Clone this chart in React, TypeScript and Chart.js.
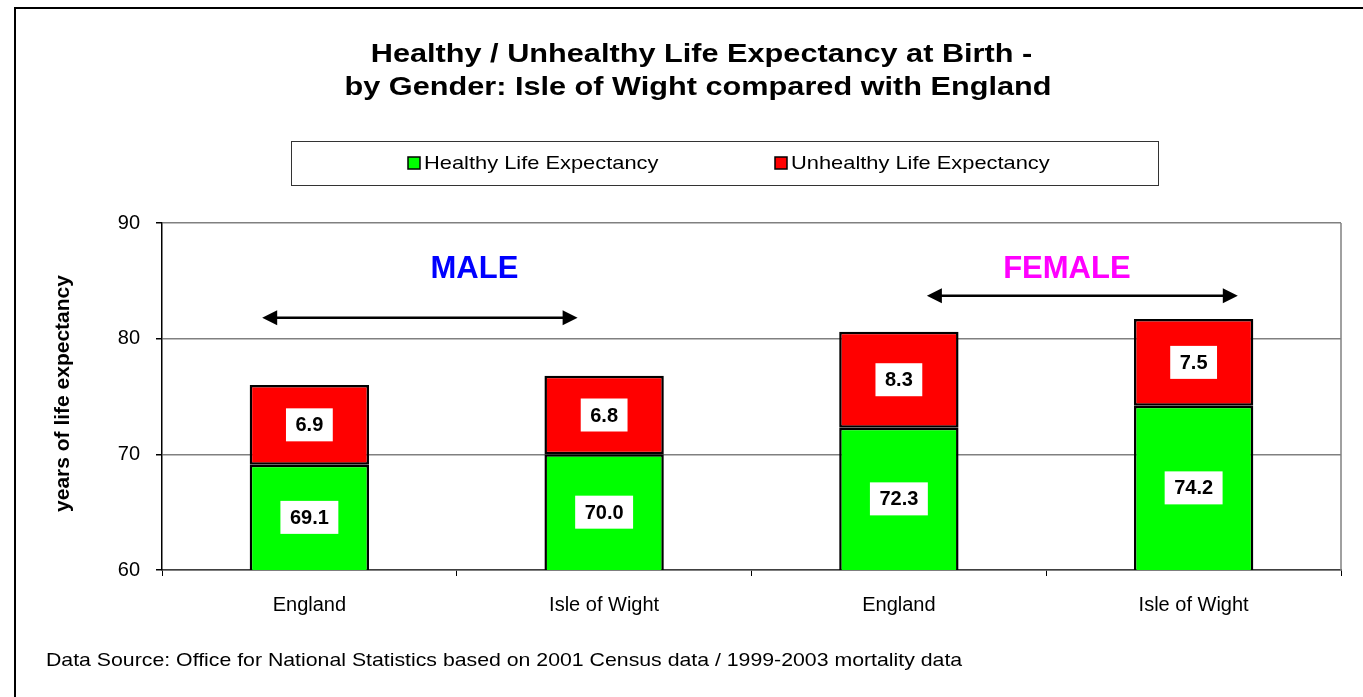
import React, { useEffect, useRef } from "react";
import { Chart, registerables } from "chart.js";

Chart.register(...registerables);

const categories = ["England", "Isle of Wight", "England", "Isle of Wight"];
const healthy = [69.1, 70.0, 72.3, 74.2];
const unhealthy = [6.9, 6.8, 8.3, 7.5];
const yTicks = [60, 70, 80, 90];
const titleLines = [
  "Healthy / Unhealthy Life Expectancy at Birth -",
  "by Gender: Isle of Wight compared with England",
];
const seriesNames = ["Healthy Life Expectancy", "Unhealthy Life Expectancy"];
const groupLabels = ["MALE", "FEMALE"];
const sourceText =
  "Data Source: Office for National Statistics based on 2001 Census data / 1999-2003 mortality data";
const yTitle = "years of life expectancy";

const FONT = "Arial, 'Liberation Sans', sans-serif";
const GREEN = "#00FF00";
const RED = "#FF0000";
const STRETCH = 1.15;

// annotation anchors in scale units (category index, value)
const arrows = [
  { x1: -0.16, x2: 0.91, y: 81.8 },
  { x1: 2.095, x2: 3.15, y: 83.7 },
];
const groupText = [
  { x: 0.56, y: 86.0, color: "#0000FF" },
  { x: 2.57, y: 86.0, color: "#FF00FF" },
];

function catToPx(xs: any, v: number) {
  const p0 = xs.getPixelForValue(0);
  const p1 = xs.getPixelForValue(1);
  return p0 + (p1 - p0) * v;
}

function stretchedText(
  ctx: CanvasRenderingContext2D,
  text: string,
  x: number,
  y: number,
  font: string,
  align: "left" | "center",
  baseline: CanvasTextBaseline,
  sx: number
) {
  ctx.save();
  ctx.font = font;
  ctx.textBaseline = baseline;
  ctx.textAlign = "left";
  const w = ctx.measureText(text).width * sx;
  const left = align === "center" ? x - w / 2 : x;
  ctx.translate(left, y);
  ctx.scale(sx, 1);
  ctx.fillText(text, 0, 0);
  ctx.restore();
}

const overlayPlugin = {
  id: "overlay",
  beforeDraw(chart: any) {
    const ctx = chart.ctx;
    ctx.save();
    ctx.fillStyle = "#FFFFFF";
    ctx.fillRect(0, 0, chart.width, chart.height);
    ctx.strokeStyle = "#000000";
    ctx.lineWidth = 2;
    ctx.beginPath();
    ctx.moveTo(15, chart.height + 2);
    ctx.lineTo(15, 8);
    ctx.lineTo(chart.width + 2, 8);
    ctx.stroke();
    ctx.restore();
  },
  afterDraw(chart: any) {
    const ctx = chart.ctx;
    const xs = chart.scales.x;
    const ys = chart.scales.y;
    const area = chart.chartArea;
    ctx.save();

    // right border of plot
    ctx.strokeStyle = "#808080";
    ctx.lineWidth = 1.5;
    ctx.beginPath();
    ctx.moveTo(area.right, area.top);
    ctx.lineTo(area.right, area.bottom);
    ctx.stroke();

    // title
    ctx.fillStyle = "#000000";
    stretchedText(ctx, titleLines[0], 701.5, 62, `bold 26px ${FONT}`, "center", "alphabetic", 1.18);
    stretchedText(ctx, titleLines[1], 698, 95, `bold 26px ${FONT}`, "center", "alphabetic", 1.18);

    // legend
    ctx.strokeStyle = "#333333";
    ctx.lineWidth = 1;
    ctx.strokeRect(291.5, 141.5, 867, 44);
    const legendItems = [
      { x: 408, color: GREEN, text: seriesNames[0] },
      { x: 775, color: RED, text: seriesNames[1] },
    ];
    legendItems.forEach((it) => {
      ctx.fillStyle = it.color;
      ctx.fillRect(it.x, 157, 12, 12);
      ctx.strokeStyle = "#000000";
      ctx.lineWidth = 1.5;
      ctx.strokeRect(it.x, 157, 12, 12);
      ctx.fillStyle = "#000000";
      stretchedText(ctx, it.text, it.x + 16, 164, `19px ${FONT}`, "left", "middle", STRETCH);
    });

    // y axis title
    ctx.save();
    ctx.translate(63, 393.5);
    ctx.rotate(-Math.PI / 2);
    ctx.font = `bold 21px ${FONT}`;
    ctx.textAlign = "center";
    ctx.textBaseline = "middle";
    ctx.fillStyle = "#000000";
    ctx.fillText(yTitle, 0, 0);
    ctx.restore();

    // data labels
    ctx.font = `bold 20px ${FONT}`;
    ctx.textAlign = "center";
    ctx.textBaseline = "middle";
    chart.data.datasets.forEach((ds: any, di: number) => {
      const meta = chart.getDatasetMeta(di);
      meta.data.forEach((bar: any, i: number) => {
        const v = ds.data[i];
        const txt = v.toFixed(1);
        const top = Math.min(bar.y, bar.base);
        const bottom = Math.min(Math.max(bar.y, bar.base), area.bottom);
        const cy = (top + bottom) / 2;
        const w = ctx.measureText(txt).width + 19;
        const h = 33;
        ctx.fillStyle = "#FFFFFF";
        ctx.fillRect(bar.x - w / 2, cy - h / 2, w, h);
        ctx.fillStyle = "#000000";
        ctx.fillText(txt, bar.x, cy + 1);
      });
    });

    // arrows
    ctx.strokeStyle = "#000000";
    ctx.fillStyle = "#000000";
    ctx.lineWidth = 2.5;
    arrows.forEach((a) => {
      const x1 = catToPx(xs, a.x1);
      const x2 = catToPx(xs, a.x2);
      const y = ys.getPixelForValue(a.y);
      ctx.beginPath();
      ctx.moveTo(x1 + 10, y);
      ctx.lineTo(x2 - 10, y);
      ctx.stroke();
      ctx.beginPath();
      ctx.moveTo(x1, y);
      ctx.lineTo(x1 + 15, y - 7.5);
      ctx.lineTo(x1 + 15, y + 7.5);
      ctx.closePath();
      ctx.fill();
      ctx.beginPath();
      ctx.moveTo(x2, y);
      ctx.lineTo(x2 - 15, y - 7.5);
      ctx.lineTo(x2 - 15, y + 7.5);
      ctx.closePath();
      ctx.fill();
    });

    // group labels
    ctx.font = `bold 31px ${FONT}`;
    ctx.textAlign = "center";
    ctx.textBaseline = "middle";
    groupText.forEach((g, i) => {
      ctx.fillStyle = g.color;
      ctx.fillText(groupLabels[i], catToPx(xs, g.x), ys.getPixelForValue(g.y));
    });

    // source
    ctx.fillStyle = "#000000";
    stretchedText(ctx, sourceText, 46, 661, `18.5px ${FONT}`, "left", "middle", STRETCH);

    ctx.restore();
  },
};

export default function App() {
  const ref = useRef<HTMLCanvasElement | null>(null);
  useEffect(() => {
    if (!ref.current) return;
    const chart = new Chart(ref.current, {
      type: "bar",
      data: {
        labels: categories,
        datasets: [
          {
            label: seriesNames[0],
            data: healthy,
            backgroundColor: GREEN,
            borderColor: "#000000",
            borderWidth: 2.5,
            borderSkipped: false,
            barPercentage: 0.405,
            categoryPercentage: 1,
          },
          {
            label: seriesNames[1],
            data: unhealthy,
            backgroundColor: RED,
            borderColor: "#000000",
            borderWidth: 2.5,
            borderSkipped: false,
            barPercentage: 0.405,
            categoryPercentage: 1,
          },
        ],
      },
      options: {
        animation: false,
        responsive: true,
        maintainAspectRatio: false,
        layout: { padding: { left: 0, top: 223, right: 22, bottom: 67 } },
        plugins: {
          legend: { display: false },
          title: { display: false },
          tooltip: { enabled: false },
        },
        scales: {
          x: {
            stacked: true,
            afterFit: (s: any) => {
              s.height = 60;
            },
            grid: {
              offset: true,
              drawOnChartArea: false,
              drawTicks: true,
              tickLength: 6,
              color: "#000000",
            },
            border: { color: "#404040", width: 1.5 },
            ticks: {
              color: "#000000",
              font: { family: FONT, size: 20 },
              padding: 17,
            },
          },
          y: {
            stacked: true,
            min: 60,
            max: 90,
            afterFit: (s: any) => {
              s.width = 162;
            },
            afterBuildTicks: (s: any) => {
              s.ticks = yTicks.map((v) => ({ value: v }));
            },
            grid: {
              color: "#808080",
              lineWidth: 1.5,
              tickLength: 6,
              tickColor: "#000000",
            },
            border: { color: "#000000", width: 1.5 },
            ticks: {
              color: "#000000",
              font: { family: FONT, size: 20 },
              padding: 16,
            },
          },
        },
      },
      plugins: [overlayPlugin],
    });
    return () => chart.destroy();
  }, []);
  return (
    <div style={{ position: "absolute", left: 0, top: 0, width: 1363, height: 697 }}>
      <canvas ref={ref} />
    </div>
  );
}
